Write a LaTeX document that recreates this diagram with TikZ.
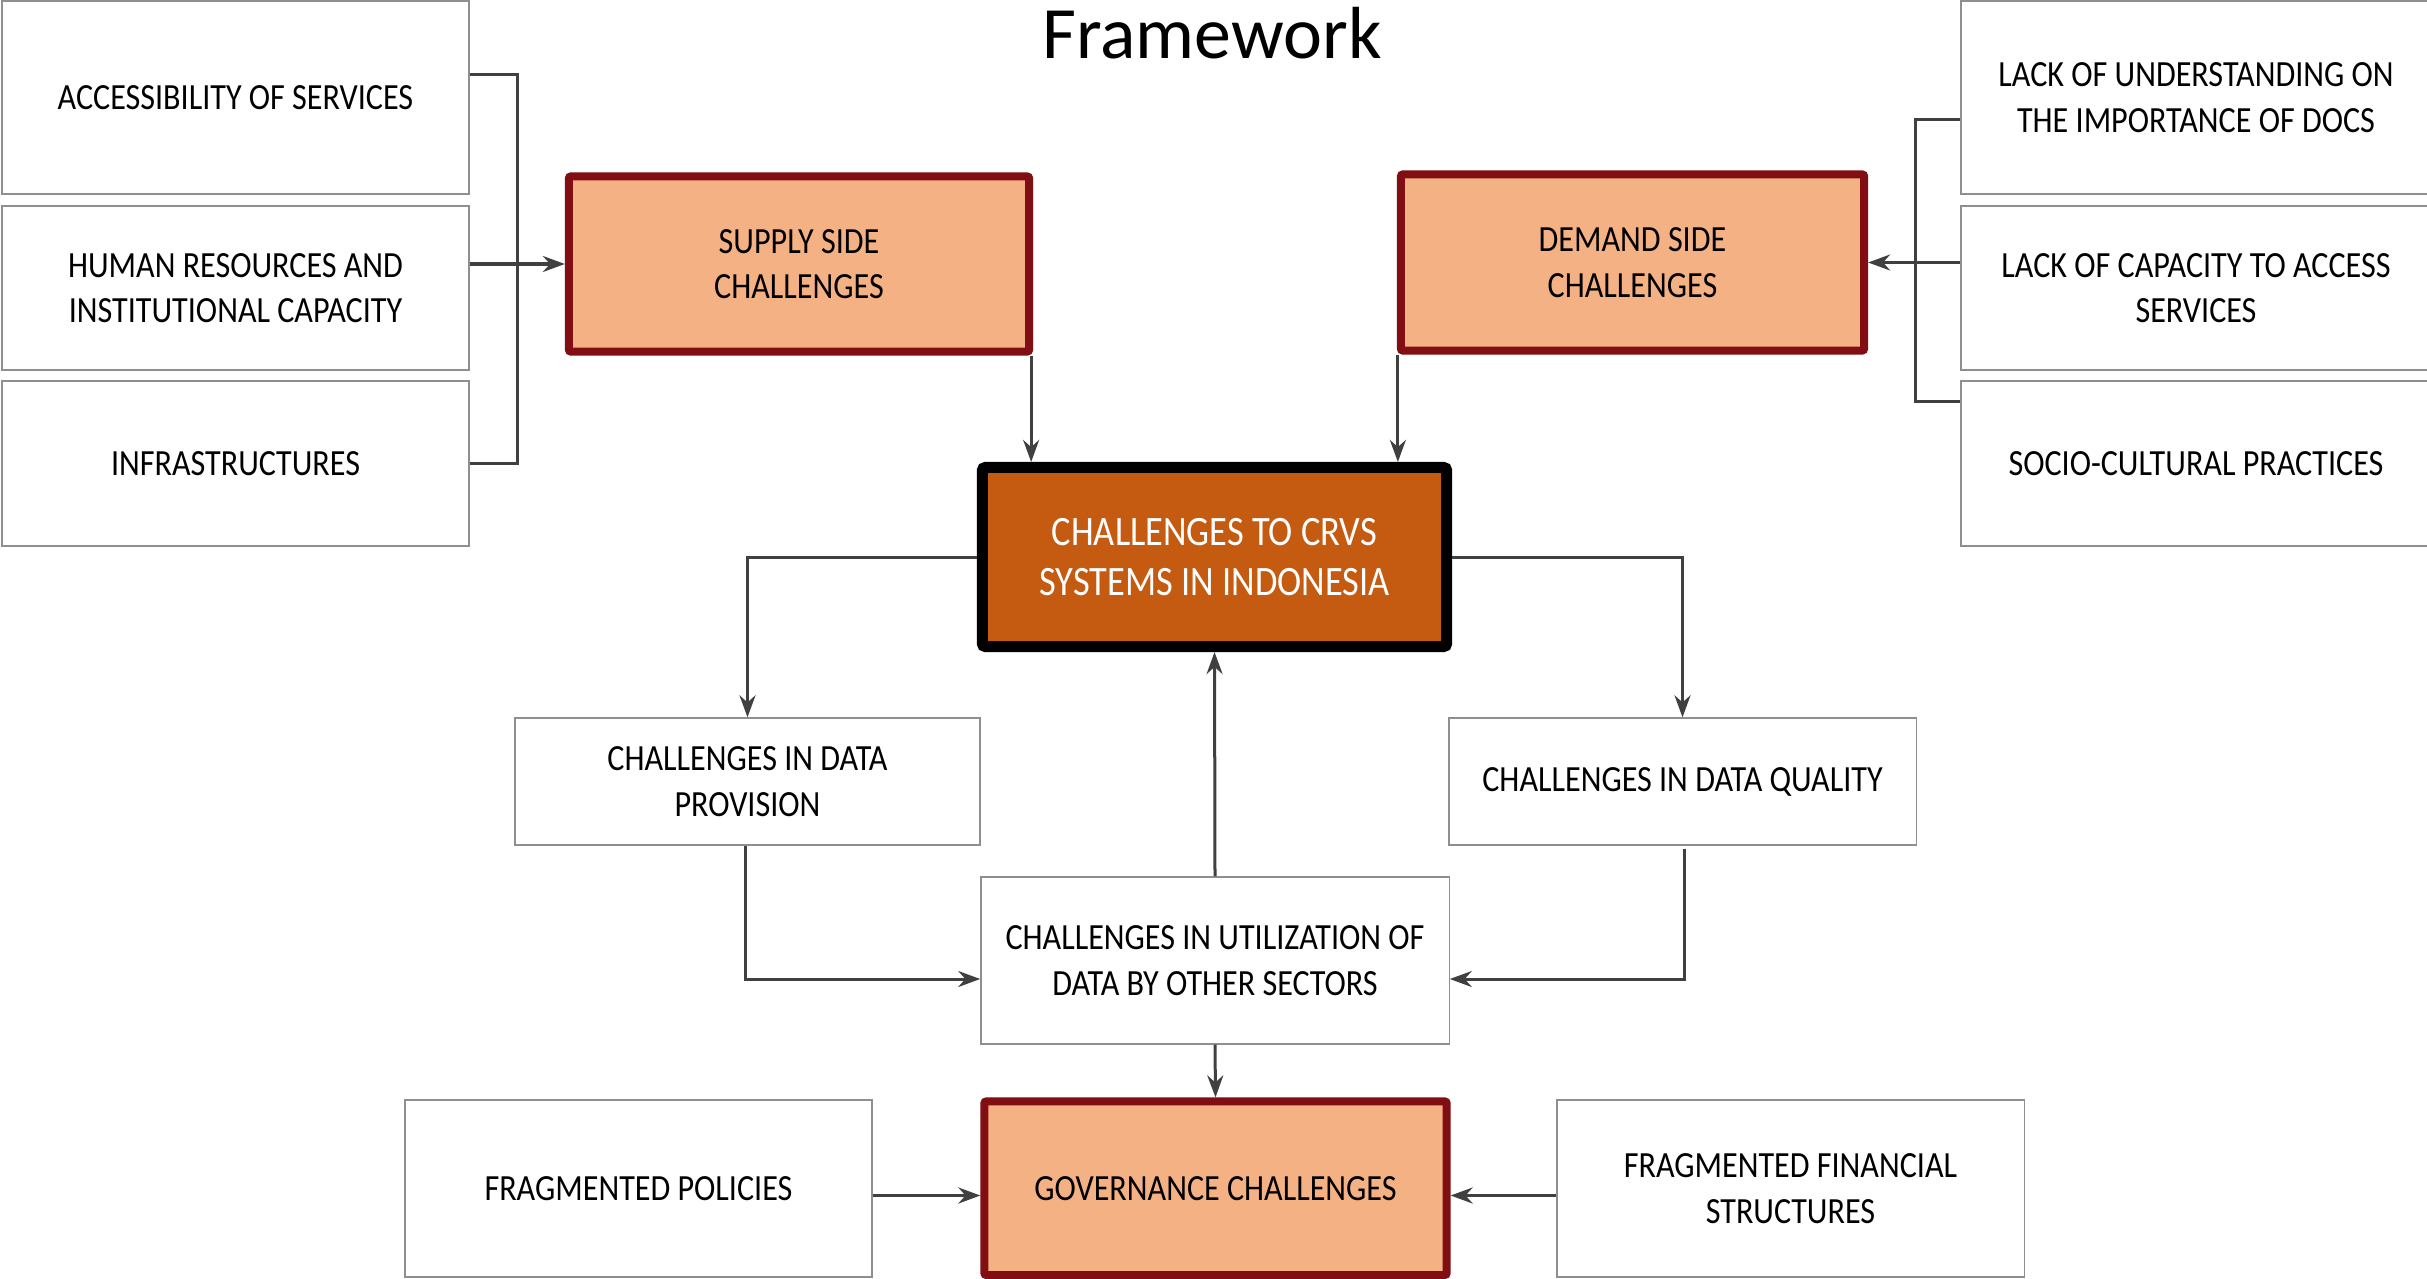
\documentclass[tikz,border=0pt]{standalone}
\usepackage{fontspec}
\setmainfont{Carlito}
\newfontfamily\boxfont[FakeStretch=0.87]{Carlito}
\usetikzlibrary{arrows.meta}
\definecolor{salmon}{HTML}{F4B183}
\definecolor{darkred}{HTML}{800E13}
\definecolor{rust}{HTML}{C55A11}
\definecolor{boxgray}{HTML}{8F8F8F}
\definecolor{linegray}{HTML}{404040}
\tikzstyle{itembox} = [rectangle,
draw=boxgray, line width=0.013cm,
fill=white,
minimum width=4.67cm,
minimum height=1.65cm,
inner sep=0pt,
align=center,
font=\boxfont\fontsize{10.5}{12.9}\selectfont]
\tikzstyle{sidebox} = [rectangle, rounded corners=0.02cm,
draw=darkred, line width=0.08cm,
fill=salmon,
minimum width=4.62cm,
minimum height=1.75cm,
inner sep=0pt,
align=center,
font=\boxfont\fontsize{10.5}{12.9}\selectfont]
\tikzstyle{corebox} = [rectangle, rounded corners=0.03cm,
draw=black, line width=0.11cm,
fill=rust, text=white,
minimum width=4.64cm,
minimum height=1.79cm,
inner sep=0pt,
align=center,
font=\boxfont\fontsize{11.9}{14.4}\selectfont]
\tikzstyle{link} = [draw=linegray, line width=0.03cm]
\tikzstyle{arrow} = [draw=linegray, line width=0.03cm, -{Stealth[length=0.22cm, width=0.16cm]}]

\begin{document}
\begin{tikzpicture}[x=0.01cm, y=-0.01cm]
\useasboundingbox (0,0) rectangle (2427,1279);

\node (title) [anchor=base, font=\fontsize{21}{25}\selectfont] at (1212,59) {Framework};

% left column
\node (acc) [itembox, minimum height=1.93cm] at (235.5,97.5) {ACCESSIBILITY OF SERVICES};
\node (hum) [itembox, minimum height=1.64cm] at (235.5,288) {HUMAN RESOURCES AND\\ INSTITUTIONAL CAPACITY};
\node (infra) [itembox] at (235.5,463.5) {INFRASTRUCTURES};

% right column
\node (lack1) [itembox, minimum width=4.7cm, minimum height=1.93cm] at (2196,97.5) {LACK OF UNDERSTANDING ON\\ THE IMPORTANCE OF DOCS};
\node (lack2) [itembox, minimum width=4.7cm, minimum height=1.64cm] at (2196,288) {LACK OF CAPACITY TO ACCESS\\ SERVICES};
\node (socio) [itembox, minimum width=4.7cm] at (2196,463.5) {SOCIO-CULTURAL PRACTICES};

\node (supply) [sidebox, minimum width=4.6cm] at (799,264) {SUPPLY SIDE\\ CHALLENGES};
\node (demand) [sidebox, minimum width=4.63cm, minimum height=1.76cm] at (1632.5,262.5) {DEMAND SIDE\\ CHALLENGES};

\node (crvs) [corebox] at (1214.5,557) {CHALLENGES TO CRVS\\ SYSTEMS IN INDONESIA};

\node (prov) [itembox, minimum width=4.65cm, minimum height=1.27cm] at (747.5,781.5) {CHALLENGES IN DATA\\ PROVISION};
\node (qual) [itembox, minimum height=1.27cm] at (1682.5,781.5) {CHALLENGES IN DATA QUALITY};
\node (util) [itembox, minimum width=4.68cm, minimum height=1.67cm] at (1215,960.5) {CHALLENGES IN UTILIZATION OF\\ DATA BY OTHER SECTORS};

% governance row
\node (gov) [sidebox, minimum width=4.62cm, minimum height=1.735cm] at (1215.5,1188.2) {GOVERNANCE CHALLENGES};
\node (pol) [itembox, minimum height=1.77cm] at (638.5,1188.5) {FRAGMENTED POLICIES};
\node (fin) [itembox, minimum height=1.77cm] at (1790.5,1188.5) {FRAGMENTED FINANCIAL\\ STRUCTURES};

\coordinate (lspine) at (517,262);
\coordinate (rspine) at (1915,261);

\draw [link] ([yshift=0.225cm]acc.east) -| (lspine) |- (infra.east);
\draw [arrow] (hum.east |- supply.west) -- (supply.west);

\draw [link] ([yshift=-0.215cm]lack1.west) -| (rspine) |- ([yshift=0.615cm]socio.west);
\draw [arrow] (lack2.west |- demand.east) -- (demand.east);

\draw [arrow] ([xshift=-0.02cm]supply.south east) -- ([xshift=-0.02cm]supply.south east |- crvs.north);
\draw [arrow] ([xshift=0.01cm]demand.south west) -- ([xshift=0.01cm]demand.south west |- crvs.north);

\draw [arrow] (crvs.west) -| (prov.north);
\draw [arrow] (crvs.east) -| (qual.north);

\draw [arrow] ([xshift=-0.02cm]prov.south) |- ([yshift=-0.185cm]util.west);
\draw [arrow] ([xshift=0.02cm, yshift=-0.03cm]qual.south) |- ([yshift=-0.185cm]util.east);

\draw [arrow] (util.north) -- (crvs.south);
\draw [arrow] (util.south) -- (gov.north);

\draw [arrow] ([yshift=-0.07cm]pol.east) -- ([yshift=-0.07cm]pol.east -| gov.west);
\draw [arrow] ([yshift=-0.07cm]fin.west) -- ([yshift=-0.07cm]fin.west -| gov.east);

\end{tikzpicture}
\end{document}
